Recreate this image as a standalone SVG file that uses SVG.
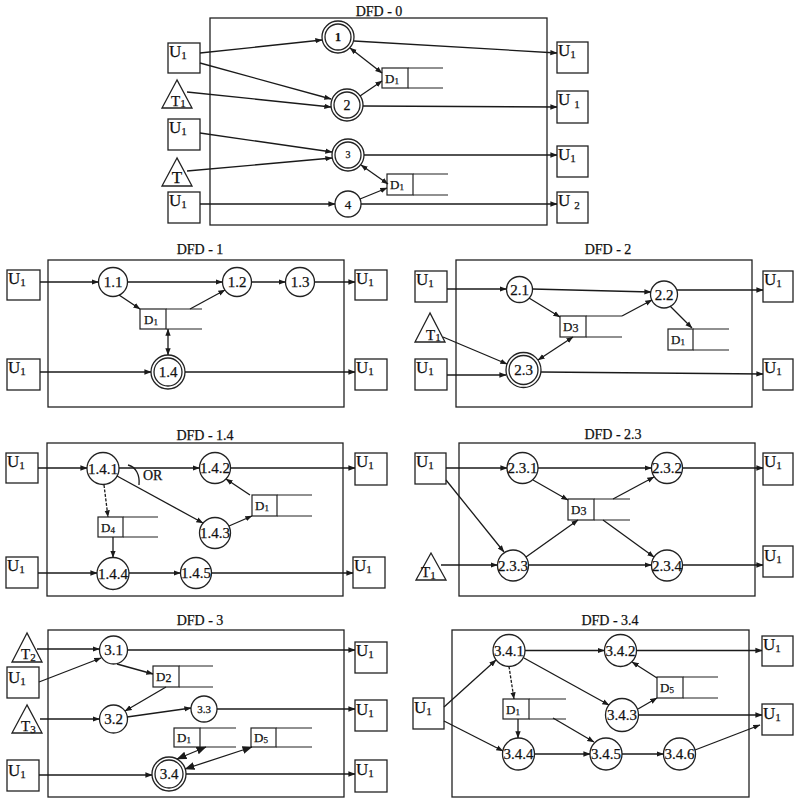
<svg xmlns="http://www.w3.org/2000/svg" width="800" height="804" viewBox="0 0 800 804">
<defs>
<marker id="ah" viewBox="0 0 10 10" refX="9.5" refY="5" markerWidth="7" markerHeight="7" markerUnits="userSpaceOnUse" orient="auto-start-reverse"><path d="M0,1.2 L10,5 L0,8.8 z" fill="#1a1a1a"/></marker>
<marker id="ab" viewBox="0 0 10 10" refX="9.5" refY="5" markerWidth="10" markerHeight="10" markerUnits="userSpaceOnUse" orient="auto-start-reverse"><path d="M0,1 L10,5 L0,9 z" fill="#1a1a1a"/></marker>
</defs>
<style>
.fr{fill:none;stroke:#222;stroke-width:1.3}
.en{fill:#fff;stroke:#222;stroke-width:1.3}
.pr{fill:#fff;stroke:#222;stroke-width:1.3}
.st{fill:none;stroke:#222;stroke-width:1.2}
.cn path{fill:none;stroke:#1a1a1a;stroke-width:1.3;marker-end:url(#ah)}
.cn path.bi{marker-start:url(#ah)}
.cn path.bb{marker-start:url(#ab);marker-end:url(#ab)}
.cn path.ds{stroke-dasharray:3 1.5}
.cn path.nm{marker-end:none}
text{font-family:"Liberation Serif","Times New Roman",serif;fill:#111;stroke:#111;stroke-width:0.25}
.ti{font-size:14px;text-anchor:middle}
.u{font-size:17px}
.t{font-size:15px}
.sb{font-size:11px}
.ss{font-size:9px}
.n{font-size:15px;text-anchor:middle}
.n2{font-size:15px;text-anchor:middle}
.d{font-size:13px}
.or{font-size:14px}
</style>
<rect width="800" height="804" fill="#fff"/>

<!-- ================= DFD-0 ================= -->
<g id="dfd0-frame"><rect class="fr" x="210" y="18" width="337" height="207"/><text class="ti" x="379" y="16">DFD - 0</text></g>
<g id="d0-u1a"><rect class="en" x="168" y="43" width="32" height="30"/><text class="u" x="169" y="57">U<tspan class="sb" dy="2">1</tspan></text></g>
<g id="d0-t1"><polygon class="en" points="177,80 162,108 192,108"/><text class="t" x="171" y="106">T<tspan class="sb" dy="1">1</tspan></text></g>
<g id="d0-u1b"><rect class="en" x="168" y="119" width="32" height="31"/><text class="u" x="169" y="133">U<tspan class="sb" dy="2">1</tspan></text></g>
<g id="d0-t"><polygon class="en" points="177,158 162,186 192,186"/><text class="u" x="177" y="183" text-anchor="middle">T</text></g>
<g id="d0-u1c"><rect class="en" x="168" y="192" width="32" height="31"/><text class="u" x="169" y="206">U<tspan class="sb" dy="2">1</tspan></text></g>
<g id="d0-p1"><circle class="pr" cx="338" cy="37" r="16"/><circle class="pr" cx="338" cy="37" r="13"/><text class="n" x="338" y="41" style="font-size:12px;font-weight:bold">1</text></g>
<g id="d0-p2"><circle class="pr" cx="347" cy="105" r="16"/><circle class="pr" cx="347" cy="105" r="13"/><text class="n" x="347" y="110" style="font-size:14px">2</text></g>
<g id="d0-p3"><circle class="pr" cx="348" cy="155" r="16"/><circle class="pr" cx="348" cy="155" r="13"/><text class="n" x="348" y="158" style="font-size:10px">3</text></g>
<g id="d0-p4"><circle class="pr" cx="348" cy="204" r="13"/><text class="n" x="348" y="209" style="font-size:13px">4</text></g>
<g id="d0-d1a"><rect class="st" x="382" y="68" width="26" height="20"/><path class="st" d="M408,68 H443 M408,88 H443"/><text class="d" x="385" y="83">D<tspan class="ss" dy="1">1</tspan></text></g>
<g id="d0-d1b"><rect class="st" x="387" y="174" width="26" height="21"/><path class="st" d="M413,174 H448 M413,195 H448"/><text class="d" x="390" y="189">D<tspan class="ss" dy="1">1</tspan></text></g>
<g id="d0-o1"><rect class="en" x="557" y="42" width="31" height="31"/><text class="u" x="558" y="56">U<tspan class="sb" dy="2">1</tspan></text></g>
<g id="d0-o2"><rect class="en" x="557" y="91" width="31" height="32"/><text class="u" x="558" y="105">U<tspan class="sb" dx="4" dy="3">1</tspan></text></g>
<g id="d0-o3"><rect class="en" x="557" y="146" width="31" height="31"/><text class="u" x="558" y="160">U<tspan class="sb" dy="2">1</tspan></text></g>
<g id="d0-o4"><rect class="en" x="557" y="192" width="31" height="31"/><text class="u" x="558" y="206">U<tspan class="sb" dx="4" dy="3">2</tspan></text></g>

<!-- ================= DFD-1 ================= -->
<g id="dfd1-frame"><rect class="fr" x="48" y="260" width="296" height="147"/><text class="ti" x="200" y="254">DFD - 1</text></g>
<g id="d1-ua"><rect class="en" x="7" y="270" width="33" height="30"/><text class="u" x="8" y="284">U<tspan class="sb" dy="2">1</tspan></text></g>
<g id="d1-ub"><rect class="en" x="7" y="359" width="33" height="31"/><text class="u" x="8" y="373">U<tspan class="sb" dy="2">1</tspan></text></g>
<g id="d1-oa"><rect class="en" x="355" y="270" width="32" height="30"/><text class="u" x="356" y="284">U<tspan class="sb" dy="2">1</tspan></text></g>
<g id="d1-ob"><rect class="en" x="355" y="359" width="32" height="31"/><text class="u" x="356" y="373">U<tspan class="sb" dy="2">1</tspan></text></g>
<g id="d1-p11"><circle class="pr" cx="113" cy="282" r="14.5"/><text class="n2" x="113" y="287">1.1</text></g>
<g id="d1-p12"><circle class="pr" cx="237" cy="282" r="14.5"/><text class="n2" x="237" y="287">1.2</text></g>
<g id="d1-p13"><circle class="pr" cx="300" cy="282" r="14.5"/><text class="n2" x="300" y="287">1.3</text></g>
<g id="d1-p14"><circle class="pr" cx="168" cy="372" r="17"/><circle class="pr" cx="168" cy="372" r="14"/><text class="n2" x="168" y="377">1.4</text></g>
<g id="d1-d1"><rect class="st" x="140" y="309" width="26" height="20"/><path class="st" d="M166,309 H202 M166,329 H202"/><text class="d" x="144" y="324">D<tspan class="ss" dy="1">1</tspan></text></g>

<!-- ================= DFD-2 ================= -->
<g id="dfd2-frame"><rect class="fr" x="456" y="260" width="296" height="147"/><text class="ti" x="608" y="254">DFD - 2</text></g>
<g id="d2-ua"><rect class="en" x="415" y="271" width="32" height="31"/><text class="u" x="416" y="285">U<tspan class="sb" dy="2">1</tspan></text></g>
<g id="d2-t1"><polygon class="en" points="430,313 415,342 445,342"/><text class="t" x="426" y="340">T<tspan class="sb" dy="1">1</tspan></text></g>
<g id="d2-ub"><rect class="en" x="415" y="359" width="32" height="31"/><text class="u" x="416" y="373">U<tspan class="sb" dy="2">1</tspan></text></g>
<g id="d2-oa"><rect class="en" x="763" y="271" width="30" height="31"/><text class="u" x="764" y="285">U<tspan class="sb" dy="2">1</tspan></text></g>
<g id="d2-ob"><rect class="en" x="763" y="359" width="30" height="31"/><text class="u" x="764" y="373">U<tspan class="sb" dy="2">1</tspan></text></g>
<g id="d2-p21"><circle class="pr" cx="519.5" cy="289.5" r="13"/><text class="n2" x="519.5" y="294.5">2.1</text></g>
<g id="d2-p22"><circle class="pr" cx="664" cy="294.5" r="13.5"/><text class="n2" x="664" y="299.5">2.2</text></g>
<g id="d2-p23"><circle class="pr" cx="523.5" cy="370" r="17.5"/><circle class="pr" cx="523.5" cy="370" r="14.5"/><text class="n2" x="523.5" y="375">2.3</text></g>
<g id="d2-d3"><rect class="st" x="560" y="316" width="26" height="21"/><path class="st" d="M586,316 H622 M586,337 H622"/><text class="d" x="563" y="331">D<tspan style="font-size:12px" dy="1">3</tspan></text></g>
<g id="d2-d1"><rect class="st" x="668" y="329" width="25" height="21"/><path class="st" d="M693,329 H729 M693,350 H729"/><text class="d" x="671" y="344">D<tspan class="ss" dy="1">1</tspan></text></g>

<!-- ================= DFD-1.4 ================= -->
<g id="dfd14-frame"><rect class="fr" x="47" y="443" width="296" height="153"/><text class="ti" x="205" y="440">DFD - 1.4</text></g>
<g id="d14-ua"><rect class="en" x="6" y="453" width="32" height="30"/><text class="u" x="7" y="467">U<tspan class="sb" dy="2">1</tspan></text></g>
<g id="d14-ub"><rect class="en" x="6" y="557" width="32" height="31"/><text class="u" x="7" y="571">U<tspan class="sb" dy="2">1</tspan></text></g>
<g id="d14-oa"><rect class="en" x="355" y="453" width="32" height="32"/><text class="u" x="356" y="467">U<tspan class="sb" dy="2">1</tspan></text></g>
<g id="d14-ob"><rect class="en" x="353" y="557" width="32" height="31"/><text class="u" x="354" y="571">U<tspan class="sb" dy="2">1</tspan></text></g>
<g id="d14-p141"><circle class="pr" cx="103" cy="468.5" r="16"/><text class="n" x="103" y="473.5">1.4.1</text></g>
<g id="d14-p142"><circle class="pr" cx="215" cy="468" r="15.5"/><text class="n" x="215" y="473">1.4.2</text></g>
<g id="d14-p143"><circle class="pr" cx="215" cy="533" r="15.5"/><text class="n" x="215" y="538">1.4.3</text></g>
<g id="d14-p144"><circle class="pr" cx="113" cy="573.5" r="16"/><text class="n" x="113" y="578.5">1.4.4</text></g>
<g id="d14-p145"><circle class="pr" cx="196" cy="573" r="15.5"/><text class="n" x="196" y="578">1.4.5</text></g>
<g id="d14-d1"><rect class="st" x="252" y="495" width="25" height="21"/><path class="st" d="M277,495 H312 M277,516 H312"/><text class="d" x="255" y="510">D<tspan class="ss" dy="1">1</tspan></text></g>
<g id="d14-d4"><rect class="st" x="98" y="517" width="25" height="20"/><path class="st" d="M123,517 H158 M123,537 H158"/><text class="d" x="101" y="532">D<tspan class="ss" dy="1">4</tspan></text></g>
<text class="or" x="143" y="480">OR</text>

<!-- ================= DFD-2.3 ================= -->
<g id="dfd23-frame"><rect class="fr" x="459" y="443" width="296" height="153"/><text class="ti" x="613" y="439">DFD - 2.3</text></g>
<g id="d23-ua"><rect class="en" x="415" y="453" width="31" height="31"/><text class="u" x="416" y="467">U<tspan class="sb" dy="2">1</tspan></text></g>
<g id="d23-t1"><polygon class="en" points="431,553 416,580 446,580"/><text class="t" x="421" y="577">T<tspan class="sb" dy="2">1</tspan></text></g>
<g id="d23-oa"><rect class="en" x="763" y="453" width="30" height="32"/><text class="u" x="764" y="467">U<tspan class="sb" dy="2">1</tspan></text></g>
<g id="d23-ob"><rect class="en" x="763" y="546" width="30" height="31"/><text class="u" x="764" y="561">U<tspan class="sb" dy="2">1</tspan></text></g>
<g id="d23-p231"><circle class="pr" cx="522.5" cy="468" r="15.5"/><text class="n" x="522.5" y="473">2.3.1</text></g>
<g id="d23-p232"><circle class="pr" cx="667" cy="468" r="15.5"/><text class="n" x="667" y="473">2.3.2</text></g>
<g id="d23-p233"><circle class="pr" cx="513" cy="565.5" r="15.5"/><text class="n" x="513" y="570.5">2.3.3</text></g>
<g id="d23-p234"><circle class="pr" cx="667" cy="565.5" r="15.5"/><text class="n" x="667" y="570.5">2.3.4</text></g>
<g id="d23-d3"><rect class="st" x="568" y="499" width="26" height="21"/><path class="st" d="M594,499 H630 M594,520 H630"/><text class="d" x="571" y="514">D<tspan style="font-size:12px" dy="1">3</tspan></text></g>

<!-- ================= DFD-3 ================= -->
<g id="dfd3-frame"><rect class="fr" x="48" y="630" width="296" height="167"/><text class="ti" x="200" y="625">DFD - 3</text></g>
<g id="d3-t2"><polygon class="en" points="27,633 12,662 42,662"/><text class="t" x="21" y="659">T<tspan class="sb" dy="2">2</tspan></text></g>
<g id="d3-ua"><rect class="en" x="7" y="667" width="32" height="31"/><text class="u" x="8" y="683">U<tspan class="sb" dy="2">1</tspan></text></g>
<g id="d3-t3"><polygon class="en" points="27,705 12,733 42,733"/><text class="t" x="21" y="731">T<tspan class="sb" dy="2">3</tspan></text></g>
<g id="d3-ub"><rect class="en" x="7" y="760" width="32" height="31"/><text class="u" x="8" y="776">U<tspan class="sb" dy="2">1</tspan></text></g>
<g id="d3-oa"><rect class="en" x="355" y="642" width="32" height="31"/><text class="u" x="356" y="656">U<tspan class="sb" dy="2">1</tspan></text></g>
<g id="d3-ob"><rect class="en" x="355" y="700" width="32" height="31"/><text class="u" x="356" y="715">U<tspan class="sb" dy="2">1</tspan></text></g>
<g id="d3-oc"><rect class="en" x="355" y="760" width="32" height="32"/><text class="u" x="356" y="775">U<tspan class="sb" dy="2">1</tspan></text></g>
<g id="d3-p31"><circle class="pr" cx="113.5" cy="650" r="14"/><text class="n2" x="113.5" y="655">3.1</text></g>
<g id="d3-p32"><circle class="pr" cx="113.5" cy="719" r="14"/><text class="n2" x="113.5" y="724">3.2</text></g>
<g id="d3-p33"><circle class="pr" cx="204" cy="709" r="13"/><text class="n" x="204" y="713" style="font-size:11px">3.3</text></g>
<g id="d3-p34"><circle class="pr" cx="169" cy="774" r="17"/><circle class="pr" cx="169" cy="774" r="14"/><text class="n2" x="169" y="779">3.4</text></g>
<g id="d3-d2"><rect class="st" x="153" y="666" width="26" height="21"/><path class="st" d="M179,666 H213 M179,687 H213"/><text class="d" x="156" y="681">D<tspan style="font-size:12px" dy="1">2</tspan></text></g>
<g id="d3-d1"><rect class="st" x="174" y="728" width="26" height="19"/><path class="st" d="M200,728 H236 M200,747 H236"/><text class="d" x="177" y="742">D<tspan class="ss" dy="1">1</tspan></text></g>
<g id="d3-d5"><rect class="st" x="251" y="728" width="25" height="19"/><path class="st" d="M276,728 H312 M276,747 H312"/><text class="d" x="254" y="742">D<tspan class="ss" dy="1">5</tspan></text></g>

<!-- ================= DFD-3.4 ================= -->
<g id="dfd34-frame"><rect class="fr" x="452" y="630" width="297" height="167"/><text class="ti" x="610" y="625">DFD - 3.4</text></g>
<g id="d34-ua"><rect class="en" x="413" y="698" width="31" height="31"/><text class="u" x="414" y="713">U<tspan class="sb" dy="2">1</tspan></text></g>
<g id="d34-oa"><rect class="en" x="762" y="636" width="31" height="30"/><text class="u" x="763" y="650">U<tspan class="sb" dy="2">1</tspan></text></g>
<g id="d34-ob"><rect class="en" x="762" y="704" width="31" height="31"/><text class="u" x="763" y="719">U<tspan class="sb" dy="2">1</tspan></text></g>
<g id="d34-p341"><circle class="pr" cx="509" cy="650.5" r="16"/><text class="n" x="509" y="655.5">3.4.1</text></g>
<g id="d34-p342"><circle class="pr" cx="620.5" cy="650.5" r="16"/><text class="n" x="620.5" y="655.5">3.4.2</text></g>
<g id="d34-p343"><circle class="pr" cx="622" cy="715" r="16.5"/><text class="n" x="622" y="720">3.4.3</text></g>
<g id="d34-p344"><circle class="pr" cx="518.5" cy="754" r="16"/><text class="n" x="518.5" y="759">3.4.4</text></g>
<g id="d34-p345"><circle class="pr" cx="606" cy="754" r="16"/><text class="n" x="606" y="759">3.4.5</text></g>
<g id="d34-p346"><circle class="pr" cx="679.5" cy="754" r="16"/><text class="n" x="679.5" y="759">3.4.6</text></g>
<g id="d34-d5"><rect class="st" x="657" y="677" width="26" height="21"/><path class="st" d="M683,677 H718 M683,698 H718"/><text class="d" x="660" y="692">D<tspan class="ss" dy="1">5</tspan></text></g>
<g id="d34-d1"><rect class="st" x="503" y="699" width="26" height="20"/><path class="st" d="M529,699 H566 M529,719 H566"/><text class="d" x="506" y="714">D<tspan class="ss" dy="1">1</tspan></text></g>

<!-- ================= connectors ================= -->
<g id="connectors" class="cn">
<!-- DFD-0 -->
<path d="M200,53 L322,40"/>
<path d="M200,63 L331,99"/>
<path d="M187,92 L331,107"/>
<path d="M200,133 L332,152"/>
<path d="M187,171 L332,158"/>
<path d="M200,204 L335,204"/>
<path class="bi" d="M350,48 L382,73"/>
<path d="M360,96 L382,81"/>
<path d="M354,41 L557,53"/>
<path d="M363,106 L557,107"/>
<path d="M364,155 L557,155"/>
<path class="bi" d="M361,165 L388,184"/>
<path d="M360,199 L387,188"/>
<path d="M361,204 L557,204"/>
<!-- DFD-1 -->
<path d="M40,282 L98.5,282"/>
<path d="M127.5,282 L222.5,282"/>
<path d="M251.5,282 L285.5,282"/>
<path d="M314.5,282 L355,282"/>
<path d="M119,295 L140,309"/>
<path d="M190,309 L225,290"/>
<path class="bi" d="M168,329 L168,355"/>
<path d="M40,372 L151,372"/>
<path d="M185,372 L355,372"/>
<!-- DFD-2 -->
<path d="M447,289 L506.5,289"/>
<path d="M532,289 L651,292"/>
<path d="M529,298 L560,317"/>
<path d="M622,316 L652,300"/>
<path d="M677,290 L763,290"/>
<path d="M670,306 L692,328"/>
<path d="M443,337 L507,364"/>
<path class="bi" d="M573,337 L538,360"/>
<path d="M447,375 L506,375"/>
<path d="M541,372 L763,374"/>
<!-- DFD-1.4 -->
<path d="M38,468 L87,468"/>
<path d="M119,468 L199.5,468"/>
<path d="M230.5,468 L355,468"/>
<path d="M117,476 L203,523"/>
<path class="ds" d="M104,485 L108,517"/>
<path d="M113,537 L113,557.5"/>
<path d="M229,526 L252,516"/>
<path d="M250,495 L226,479"/>
<path class="nm" d="M128,465 C136,467 140,475 139,485"/>
<path d="M38,573 L97,573"/>
<path d="M129,573 L180.5,573"/>
<path d="M211.5,573 L353,573"/>
<!-- DFD-2.3 -->
<path d="M446,468 L507,468"/>
<path d="M538,468 L651.5,468"/>
<path d="M682.5,468 L763,468"/>
<path d="M446,480 L504,552"/>
<path d="M533,480 L568,500"/>
<path d="M613,499 L654,477"/>
<path d="M526,557 L578,520"/>
<path d="M603,520 L654,557"/>
<path d="M441,565 L497.5,565"/>
<path d="M528.5,565 L651.5,565"/>
<path d="M682.5,565 L763,565"/>
<!-- DFD-3 -->
<path d="M37,649 L99.5,649"/>
<path d="M39,682 L101,658"/>
<path d="M127.5,650 L355,650"/>
<path d="M117,664 L153,674"/>
<path d="M166,687 L125,711"/>
<path d="M40,719 L99.5,719"/>
<path d="M127,717 L191,708"/>
<path d="M217,709 L355,709"/>
<path class="bb" d="M206,747 L177,759"/>
<path class="bb" d="M252,747 L185,769"/>
<path d="M39,775 L152,775"/>
<path d="M186,774 L355,774"/>
<!-- DFD-3.4 -->
<path d="M444,707 L496,660"/>
<path d="M444,721 L503,751"/>
<path d="M525,650.5 L604.5,650.5"/>
<path d="M636.5,650.5 L762,650.5"/>
<path d="M524,658 L609,705"/>
<path class="ds" d="M509,666.5 L514,699"/>
<path d="M518,719 L518,738"/>
<path d="M553,718 L594,742"/>
<path d="M638,709 L657,698"/>
<path d="M657,678 L632,662"/>
<path d="M638.5,715 L762,715"/>
<path d="M534.5,754 L590,754"/>
<path d="M622,754 L663.5,754"/>
<path d="M695,750 L760,725"/>
</g>
</svg>
